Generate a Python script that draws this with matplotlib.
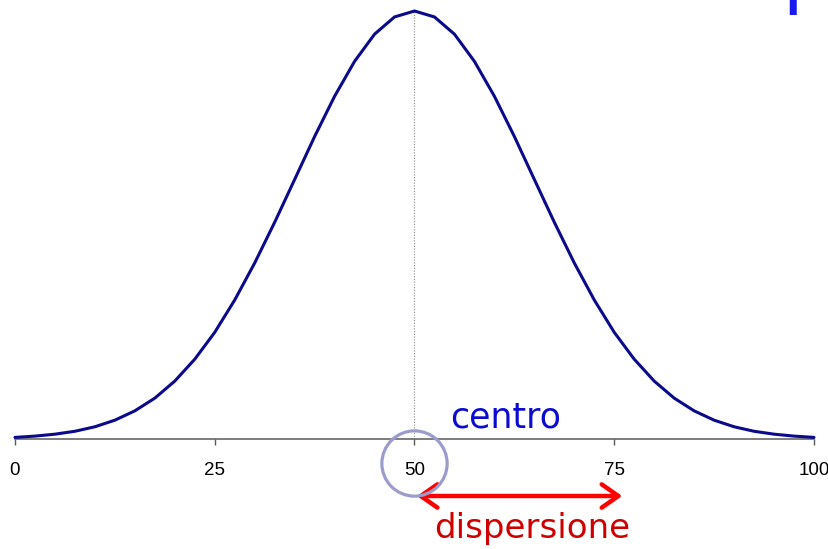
import matplotlib
matplotlib.use("Agg")
import matplotlib.pyplot as plt
import numpy as np

# Curve sampled along the score axis (heights in arbitrary density units)
scores = [0, 2.5, 5, 7.5, 10, 12.5, 15, 17.5, 20, 22.5, 25, 27.5, 30, 32.5, 35,
          37.5, 40, 42.5, 45, 47.5, 50, 52.5, 55, 57.5, 60, 62.5, 65, 67.5, 70,
          72.5, 75, 77.5, 80, 82.5, 85, 87.5, 90, 92.5, 95, 97.5, 100]
heights = [0.10, 0.18, 0.30, 0.48, 0.76, 1.17, 1.75, 2.54, 3.60, 4.96, 6.63,
           8.64, 10.94, 13.47, 16.13, 18.80, 21.30, 23.47, 25.16, 26.23, 26.60,
           26.23, 25.16, 23.47, 21.30, 18.80, 16.13, 13.47, 10.94, 8.64, 6.63,
           4.96, 3.60, 2.54, 1.75, 1.17, 0.76, 0.48, 0.30, 0.18, 0.10]
tick_values = [0, 25, 50, 75, 100]
tick_labels = ["0", "25", "50", "75", "100"]

center = 50
spread_end = 76
peak = 26.6

title_text = "Il centro e la dispersione"
center_label = "centro"
spread_label = "dispersione"

W, H = 829, 549
fig = plt.figure(figsize=(W / 100, H / 100), dpi=100)
ax = fig.add_axes([0, 0, 1, 1])

# pixel geometry of the plotting region
px_x0, px_x100 = 15, 814
px_base, px_peak = 439, 11
ux = (px_x100 - px_x0) / 100.0
uy = (px_base - px_peak) / peak
ax.set_xlim(-px_x0 / ux, 100 + (W - px_x100) / ux)
ax.set_ylim(-(H - px_base) / uy, peak + px_peak / uy)

# vertical dotted guide at the centre
ax.plot([center, center], [0, peak], color="#9a9a9a", lw=0.9,
        linestyle=(0, (1, 1.2)), zorder=1)

# the curve
ax.plot(scores, heights, color="#0a0a8a", lw=2.2, solid_joinstyle="round",
        solid_capstyle="round", zorder=3)

# axis
for s in ["left", "right", "top"]:
    ax.spines[s].set_visible(False)
ax.spines["bottom"].set_position(("data", 0))
ax.spines["bottom"].set_bounds(0, 100)
ax.spines["bottom"].set_color("#5a5a5a")
ax.spines["bottom"].set_linewidth(1.1)
ax.set_yticks([])
ax.set_xticks(tick_values)
ax.set_xticklabels(tick_labels, fontfamily="Liberation Sans", fontsize=13.5)
ax.tick_params(axis="x", direction="out", length=4.5, width=1.0,
               color="#5a5a5a", pad=12, labelcolor="black")

# circle marking the centre
ax.plot([center], [-(463 - px_base) / uy], marker="o", markersize=47,
        markerfacecolor="none", markeredgecolor="#9c9ccc",
        markeredgewidth=2.3, zorder=4, clip_on=False)

# labels
ax.text(54.4, (px_base - 427) / uy, center_label, color="#0c0cd0",
        fontsize=25, fontfamily="DejaVu Sans", ha="left", va="baseline")
ax.text(52.5, -(538 - px_base) / uy, spread_label, color="#d00000",
        fontsize=24.5, fontfamily="DejaVu Sans", ha="left", va="baseline")

# double arrow for the spread
ya = -(496 - px_base) / uy
ax.annotate("", xy=(center + 0.3, ya), xytext=(spread_end, ya),
            arrowprops=dict(arrowstyle="<->,head_length=0.6,head_width=0.42",
                            color="#ff0000", lw=3.2, shrinkA=0, shrinkB=0,
                            mutation_scale=20))

# title, running off the top edge: only the lowest strokes remain visible
fig.canvas.draw()
renderer = fig.canvas.get_renderer()
title_fs = 56
probe = fig.text(0, 0, "Il centro e la dis", fontsize=title_fs,
                 fontfamily="DejaVu Sans")
wpx = probe.get_window_extent(renderer).width
probe.remove()
x0 = (783 - wpx) / W
title = fig.text(x0, 1.0, title_text, fontsize=title_fs,
                 fontfamily="DejaVu Sans", color="#1a1af0",
                 ha="left", va="baseline")


def descender_bottom(offset_px):
    """Lowest pixel row reached by the title near the 'p' descender."""
    title.set_y(1.0 - offset_px / H)
    fig.canvas.draw()
    buf = np.asarray(fig.canvas.buffer_rgba())[:60, 770:815, :3].astype(int)
    mask = (buf[..., 2] > 150) & (buf[..., 0] < 140) & (buf[..., 1] < 140)
    rows = np.where(mask.any(axis=1))[0]
    return rows.max() + 1 if len(rows) else 0


target = 15
best = min(np.arange(-20.0, 20.5, 0.5),
           key=lambda o: abs(descender_bottom(o) - target))
title.set_y(1.0 - best / H)

fig.savefig("out.png", dpi=100)
